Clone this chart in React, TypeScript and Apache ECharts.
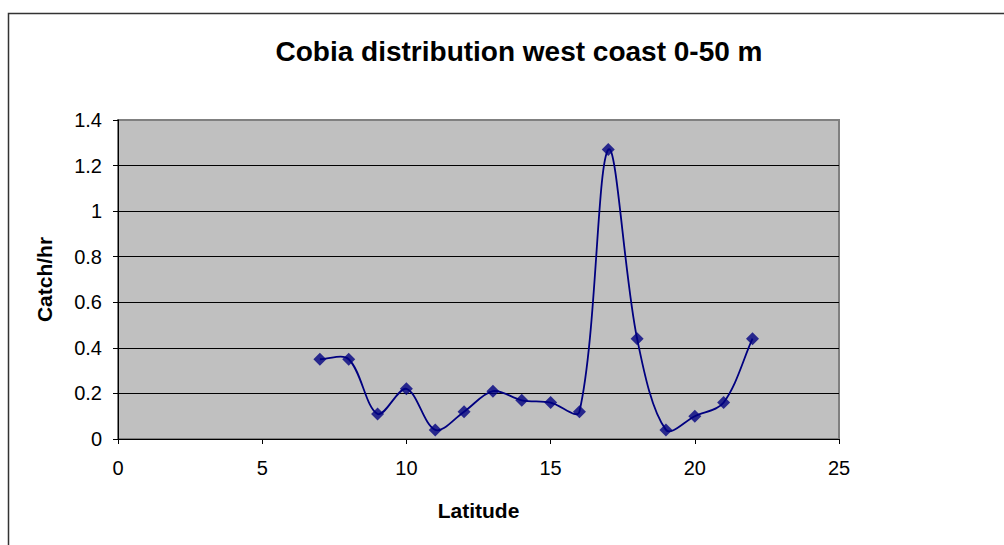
import React, { useEffect, useRef } from "react";
import * as echarts from "echarts";

const titleText = "Cobia distribution west coast 0-50 m";
const xName = "Latitude";
const yName = "Catch/hr";
const latitudes = [7, 8, 9, 10, 11, 12, 13, 14, 15, 16, 17, 18, 19, 20, 21, 22];
const catchPerHour = [0.35, 0.35, 0.11, 0.22, 0.04, 0.12, 0.21, 0.17, 0.16, 0.12, 1.27, 0.44, 0.04, 0.10, 0.16, 0.44];
const xMin = 0, xMax = 25, xStep = 5;
const yMin = 0, yMax = 1.4, yStep = 0.2;

const FONT = "'Liberation Sans', Arial, sans-serif";
const NAVY = "#000080";

export default function App() {
  const ref = useRef<HTMLDivElement>(null);
  useEffect(() => {
    if (!ref.current) return;
    const chart = echarts.init(ref.current, null, { renderer: "svg" });
    const data = latitudes.map((x, i) => [x, catchPerHour[i]]);

    // Excel-like smoothed line: chord-length weighted Bezier in pixel space, built from the axes' scales.
    const renderSmooth = (params: any, api: any) => {
      if (params.dataIndex !== 0) return null;
      const pts = data.map((d) => api.coord(d));
      const n = pts.length;
      const dist = (a: number[], b: number[]) => Math.hypot(b[0] - a[0], b[1] - a[1]);
      const s = 1 / 3;
      const cpOut: number[][] = [];
      const cpIn: number[][] = [];
      for (let i = 0; i < n; i++) {
        const prev = pts[Math.max(0, i - 1)];
        const next = pts[Math.min(n - 1, i + 1)];
        const dp = dist(prev, pts[i]);
        const dn = dist(pts[i], next);
        const tot = dp + dn || 1;
        const tx = next[0] - prev[0];
        const ty = next[1] - prev[1];
        cpOut.push([pts[i][0] + tx * (dn / tot) * s, pts[i][1] + ty * (dn / tot) * s]);
        cpIn.push([pts[i][0] - tx * (dp / tot) * s, pts[i][1] - ty * (dp / tot) * s]);
      }
      let d = `M${pts[0][0]},${pts[0][1]}`;
      for (let i = 0; i < n - 1; i++) {
        const c1 = cpOut[i];
        const c2 = cpIn[i + 1];
        const p2 = pts[i + 1];
        d += ` C${c1[0]},${c1[1]} ${c2[0]},${c2[1]} ${p2[0]},${p2[1]}`;
      }
      return {
        type: "path",
        shape: { pathData: d },
        style: { fill: "none", stroke: NAVY, lineWidth: 1.8 },
      };
    };

    chart.setOption({
      animation: false,
      backgroundColor: "#ffffff",
      title: {
        text: titleText,
        left: 514,
        textAlign: "center",
        top: 32,
        textStyle: { fontFamily: FONT, fontWeight: "bold", fontSize: 28, color: "#000" },
      },
      graphic: [
        {
          type: "rect",
          shape: { x: 8.5, y: 13.5, width: 1100, height: 600 },
          style: { fill: "none", stroke: "#333", lineWidth: 1.5 },
          silent: true,
          z: 0,
        },
      ],
      grid: {
        left: 118,
        top: 120,
        right: 165,
        bottom: 106,
        show: true,
        backgroundColor: "#C0C0C0",
        borderColor: "#808080",
        borderWidth: 2,
      },
      xAxis: {
        type: "value",
        min: xMin,
        max: xMax,
        interval: xStep,
        name: xName,
        nameLocation: "middle",
        nameGap: 61,
        nameTextStyle: { fontFamily: FONT, fontWeight: "bold", fontSize: 21, color: "#000" },
        axisLine: { show: true, onZero: false, lineStyle: { color: "#000", width: 1 } },
        axisTick: { show: true, inside: false, length: 5, lineStyle: { color: "#000" } },
        axisLabel: { fontFamily: FONT, fontSize: 20, color: "#000", margin: 19 },
        splitLine: { show: false },
      },
      yAxis: {
        type: "value",
        min: yMin,
        max: yMax,
        interval: yStep,
        name: yName,
        nameLocation: "middle",
        nameGap: 63,
        nameTextStyle: { fontFamily: FONT, fontWeight: "bold", fontSize: 21, color: "#000" },
        axisLine: { show: true, lineStyle: { color: "#000", width: 1 } },
        axisTick: { show: true, inside: false, length: 5, lineStyle: { color: "#000" } },
        axisLabel: {
          fontFamily: FONT,
          fontSize: 20,
          color: "#000",
          margin: 16,
          formatter: (v: number) => String(Math.round(v * 10) / 10),
        },
        splitLine: { show: true, showMinLine: false, showMaxLine: false, lineStyle: { color: "#000", width: 1 } },
      },
      series: [
        {
          type: "custom",
          data,
          renderItem: renderSmooth,
          clip: true,
          z: 4,
          silent: true,
        },
        {
          type: "scatter",
          data,
          symbol: "diamond",
          symbolSize: 13,
          itemStyle: { color: NAVY },
          z: 5,
        },
      ],
    });
    return () => chart.dispose();
  }, []);
  return (
    <div
      ref={ref}
      style={{ position: "fixed", left: 0, top: 0, width: 1004, height: 545 }}
    />
  );
}
